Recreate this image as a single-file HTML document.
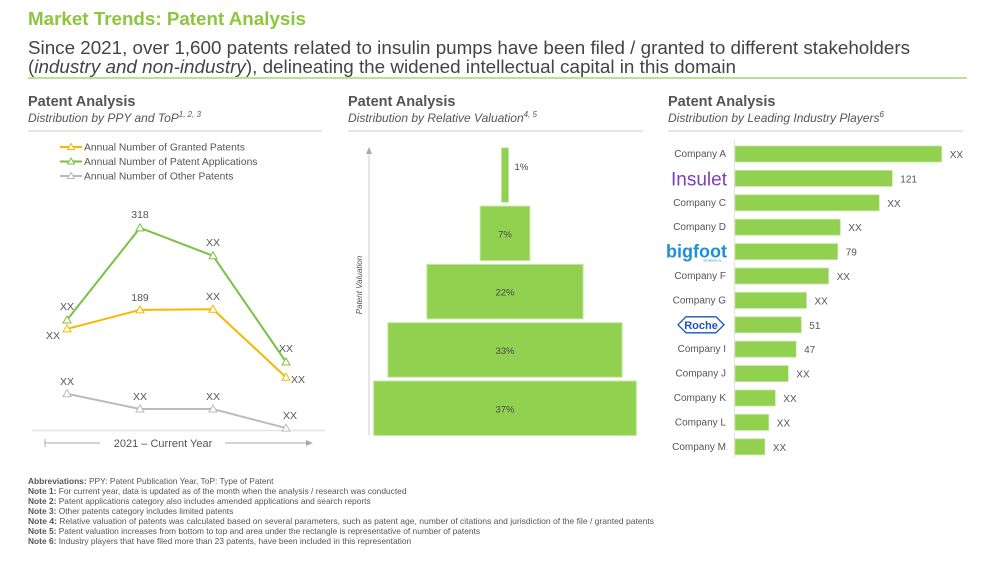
<!DOCTYPE html>
<html><head><meta charset="utf-8"><style>
body{margin:0;width:1000px;height:562px;background:#fff;overflow:hidden;font-family:"Liberation Sans",sans-serif}
svg text{font-family:"Liberation Sans",sans-serif}
</style></head><body>
<svg id="s" width="1000" height="562" viewBox="0 0 1000 562" xmlns="http://www.w3.org/2000/svg">
<g>
<text x="28" y="25" font-size="18.5" font-weight="bold" fill="#8cc63f" textLength="278" lengthAdjust="spacingAndGlyphs">Market Trends: Patent Analysis</text>
<text x="28" y="54" font-size="18" fill="#444" textLength="882" lengthAdjust="spacingAndGlyphs">Since 2021, over 1,600 patents related to insulin pumps have been filed / granted to different stakeholders</text>
<text x="28" y="73" font-size="18" fill="#444" textLength="708" lengthAdjust="spacingAndGlyphs">(<tspan font-style="italic">industry and non-industry</tspan>), delineating the widened intellectual capital in this domain</text>
<line x1="28" y1="78" x2="967" y2="78" stroke="#a6d96a" stroke-width="1.5"/>
</g>
<g>
<text x="28" y="106" font-size="14.5" font-weight="bold" fill="#555">Patent Analysis</text>
<text x="28" y="122" font-size="12" font-style="italic" fill="#555">Distribution by PPY and ToP<tspan font-size="8" dy="-5">1, 2, 3</tspan></text>
<line x1="28" y1="131" x2="322" y2="131" stroke="#ddd" stroke-width="1.5"/>
<text x="348" y="106" font-size="14.5" font-weight="bold" fill="#555">Patent Analysis</text>
<text x="348" y="122" font-size="12" font-style="italic" fill="#555">Distribution by Relative Valuation<tspan font-size="8" dy="-5">4, 5</tspan></text>
<line x1="348" y1="131" x2="643" y2="131" stroke="#ddd" stroke-width="1.5"/>
<text x="668" y="106" font-size="14.5" font-weight="bold" fill="#555">Patent Analysis</text>
<text x="668" y="122" font-size="12" font-style="italic" fill="#555">Distribution by Leading Industry Players<tspan font-size="8" dy="-5">6</tspan></text>
<line x1="668" y1="131" x2="963" y2="131" stroke="#ddd" stroke-width="1.5"/>
</g>
<g id="line-chart"></g>
<g id="pyramid"></g>
<g id="bars"></g>
<g font-size="8.4" fill="#555">
<text x="28" y="484"><tspan font-weight="bold">Abbreviations:</tspan> PPY: Patent Publication Year, ToP: Type of Patent</text>
<text x="28" y="494"><tspan font-weight="bold">Note 1:</tspan> For current year, data is updated as of the month when the analysis / research was conducted</text>
<text x="28" y="504"><tspan font-weight="bold">Note 2:</tspan> Patent applications category also includes amended applications and search reports</text>
<text x="28" y="514"><tspan font-weight="bold">Note 3:</tspan> Other patents category includes limited patents</text>
<text x="28" y="524" textLength="626" lengthAdjust="spacingAndGlyphs"><tspan font-weight="bold">Note 4:</tspan> Relative valuation of patents was calculated based on several parameters, such as patent age, number of citations and jurisdiction of the file / granted patents</text>
<text x="28" y="534"><tspan font-weight="bold">Note 5:</tspan> Patent valuation increases from bottom to top and area under the rectangle is representative of number of patents</text>
<text x="28" y="544"><tspan font-weight="bold">Note 6:</tspan> Industry players that have filed more than 23 patents, have been included in this representation</text>
</g>
</svg>
<script>
const NS="http://www.w3.org/2000/svg";
function mk(p,t,a,txt){const e=document.createElementNS(NS,t);for(const k in a)e.setAttribute(k,a[k]);if(txt!==undefined)e.textContent=txt;p.appendChild(e);return e;}

// ---- line chart data ----
const lineYears=["Y1","Y2","Y3","Y4"];
const applications=[173,318,274,107];
const granted=[159,189,190,83];
const other=[57,33,33,3];
const appLabels=["XX","318","XX","XX"];
const grantLabels=["XX","189","XX","XX"];
const otherLabels=["XX","XX","XX","XX"];
const seriesNames=["Annual Number of Granted Patents","Annual Number of Patent Applications","Annual Number of Other Patents"];

const lc=document.getElementById('line-chart');
const lx=i=>67+i*73;
const ly=v=>430-v/1.573;
const legCols=["#f5b800","#7ac143","#bbb"];
seriesNames.forEach((n,i)=>{
  const y=147+i*14.5;
  const g=mk(lc,'g',{});
  
  
  mk(g,'line',{x1:60,y1:y,x2:82,y2:y,stroke:legCols[i],'stroke-width':2});
  mk(g,'path',{d:`M71 ${y-3.5} L74.5 ${y+2.5} L67.5 ${y+2.5} Z`,fill:'#fff',stroke:legCols[i],'stroke-width':1});
  mk(g,'text',{x:84,y:y+3.5,'font-size':10.3,fill:'#555'},n);
});
mk(lc,'line',{x1:32,y1:430.5,x2:325,y2:430.5,stroke:'#e3e3e3','stroke-width':1.5});
const ax=mk(lc,'g',{});


mk(ax,'line',{x1:45,y1:443,x2:100,y2:443,stroke:'#aaa'});
mk(ax,'line',{x1:45,y1:439,x2:45,y2:447,stroke:'#aaa'});
mk(ax,'line',{x1:225,y1:443,x2:308,y2:443,stroke:'#aaa'});
mk(ax,'path',{d:'M313 443 L306 440 L306 446 Z',fill:'#aaa'});
mk(ax,'text',{x:163,y:447,'font-size':11,fill:'#555','text-anchor':'middle'},'2021 – Current Year');

function drawSeries(vals,labels,col,name,offs){
  const g=mk(lc,'g',{});
  
  
  mk(g,'polyline',{points:vals.map((v,i)=>lx(i)+','+ly(v)).join(' '),fill:'none',stroke:col,'stroke-width':2});
  vals.forEach((v,i)=>{
    const x=lx(i),y=ly(v);
    const m=mk(g,'path',{d:`M${x} ${y-4} L${x+4} ${y+3} L${x-4} ${y+3} Z`,fill:'#fff',stroke:col,'stroke-width':1});
    
    
    const o=offs[i];
    mk(g,'text',{x:x+o[0],y:y+o[1],'font-size':10.5,fill:'#555','text-anchor':'middle'},labels[i]);
  });
}
drawSeries(other,otherLabels,'#bbb','other-patents-line',[[0,-9],[0,-9],[0,-9],[4,-9]]);
drawSeries(granted,grantLabels,'#f5b800','granted-patents-line',[[-14,10],[0,-9],[0,-9],[12,6]]);
drawSeries(applications,appLabels,'#7ac143','applications-line',[[0,-10],[0,-10],[0,-10],[0,-10]]);

// ---- pyramid data ----
const tiers=["Lowest","Low","Medium","High","Highest"];
const tierShares=[37,33,22,7,1];
const tierLabels=["37%","33%","22%","7%","1%"];
const py=document.getElementById('pyramid');
const pcx=505, pw=v=>v*7.1;
mk(py,'line',{x1:369,y1:152,x2:369,y2:435,stroke:'#ccc'});
mk(py,'path',{d:'M369 147 L366 154 L372 154 Z',fill:'#aaa'});
mk(py,'text',{x:0,y:0,'font-size':8,'font-style':'italic',fill:'#555','text-anchor':'middle',transform:'translate(362 285) rotate(-90)'},'Patent Valuation');
tierShares.forEach((v,i)=>{
  const yTop=381-i*58.3, h=54.5, w=pw(v);
  const r=mk(py,'rect',{x:pcx-w/2,y:yTop,width:w,height:h,fill:'#92d050',stroke:'#c5e6a6','stroke-width':1});
  
  
  const inside=w>20;
  mk(py,'text',{x:inside?pcx:pcx+w/2+6,y:yTop+(inside?h/2+4:h/3+4),'font-size':9.5,fill:'#4a4a4a','text-anchor':inside?'middle':'start'},tierLabels[i]);
});

// ---- bar data ----
const companies=["Company A","Insulet","Company C","Company D","bigfoot","Company F","Company G","Roche","Company I","Company J","Company K","Company L","Company M"];
const patentCounts=[159,121,111,81,79,72,55,51,47,41,31,26,23];
const countLabels=["XX","121","XX","XX","79","XX","XX","51","47","XX","XX","XX","XX"];
const bg=document.getElementById('bars');
const bx0=735, bw=v=>v*1.3, by=i=>154+i*24.4;
mk(bg,'line',{x1:734.5,y1:140,x2:734.5,y2:458,stroke:'#e3e3e3'});
companies.forEach((c,i)=>{
  const y=by(i);
  const r=mk(bg,'rect',{x:bx0,y:y-8,width:bw(patentCounts[i]),height:16,fill:'#92d050',stroke:'#c5e6a6','stroke-width':0.8});
  
  
  mk(bg,'text',{x:bx0+bw(patentCounts[i])+8,y:y+4,'font-size':10,fill:'#555'},countLabels[i]);
  let t;
  if(c==="Insulet"){t=mk(bg,'text',{x:727,y:y+7,'font-size':19,fill:'#7d3fb8','text-anchor':'end'},'Insulet');}
  else if(c==="bigfoot"){t=mk(bg,'text',{x:727,y:y+6,'font-size':18,'font-weight':'bold',fill:'#1c8fd6','text-anchor':'end'},'bigfoot');
    mk(bg,'text',{x:722,y:y+10,'font-size':3,fill:'#1c8fd6','text-anchor':'end'},'BIOMEDICAL');}
  else if(c==="Roche"){
    mk(bg,'path',{d:`M678 ${y} L686 ${y-8} L716 ${y-8} L724 ${y} L716 ${y+8} L686 ${y+8} Z`,fill:'#fff',stroke:'#1a52c4','stroke-width':1.3});
    t=mk(bg,'text',{x:701,y:y+4,'font-size':11,'font-weight':'bold',fill:'#1a52c4','text-anchor':'middle'},'Roche');}
  else{t=mk(bg,'text',{x:726,y:y+3,'font-size':10,fill:'#555','text-anchor':'end'},c);}
  
  
});
</script>
</body></html>
